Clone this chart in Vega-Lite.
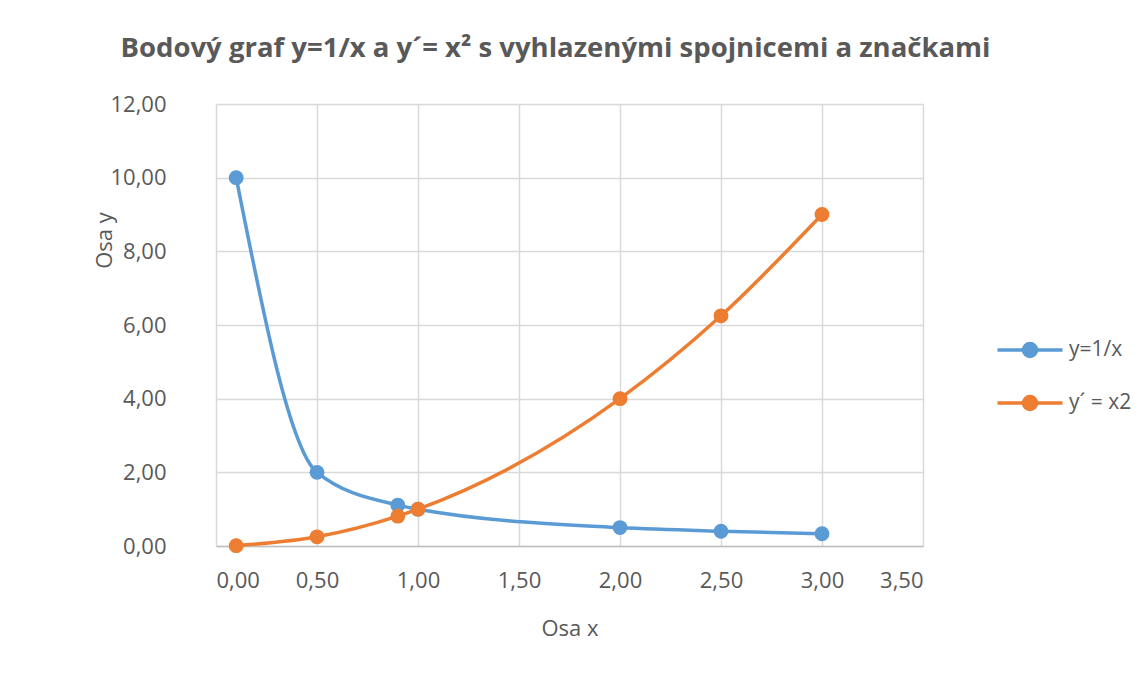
{
  "$schema": "https://vega.github.io/schema/vega-lite/v6.json",
  "autosize": "none",
  "width": 707,
  "height": 442,
  "padding": {"left": 216, "top": 104, "right": 223, "bottom": 137},
  "background": "white",
  "title": {
    "text": "Bodový graf y=1/x  a y´= x² s vyhlazenými spojnicemi a značkami",
    "fontSize": 27.5,
    "font": "Open Sans",
    "fontWeight": "bold",
    "color": "#595959",
    "anchor": "middle",
    "dx": -14,
    "offset": 31
  },
  "data": {
    "values": [
      {"x": 0.1, "y": 10, "series": "y=1/x"},
      {"x": 0.5, "y": 2, "series": "y=1/x"},
      {"x": 0.9, "y": 1.11, "series": "y=1/x"},
      {"x": 1.0, "y": 1, "series": "y=1/x"},
      {"x": 2.0, "y": 0.5, "series": "y=1/x"},
      {"x": 2.5, "y": 0.4, "series": "y=1/x"},
      {"x": 3.0, "y": 0.333, "series": "y=1/x"},
      {"x": 0.1, "y": 0.01, "series": "y´ = x2"},
      {"x": 0.5, "y": 0.25, "series": "y´ = x2"},
      {"x": 0.9, "y": 0.81, "series": "y´ = x2"},
      {"x": 1.0, "y": 1, "series": "y´ = x2"},
      {"x": 2.0, "y": 4, "series": "y´ = x2"},
      {"x": 2.5, "y": 6.25, "series": "y´ = x2"},
      {"x": 3.0, "y": 9, "series": "y´ = x2"}
    ]
  },
  "encoding": {
    "x": {
      "field": "x",
      "type": "quantitative",
      "scale": {"domain": [0, 3.5], "nice": false, "zero": false},
      "axis": {
        "title": "Osa x",
        "values": [0, 0.5, 1, 1.5, 2, 2.5, 3, 3.5],
        "labelExpr": "replace(format(datum.value, '.2f'), '.', ',')",
        "ticks": false,
        "labelPadding": 24,
        "labelFontSize": 22,
        "labelFont": "Open Sans",
        "labelColor": "#595959",
        "titleFontSize": 22,
        "titleFont": "Open Sans",
        "titleFontWeight": "normal",
        "titleColor": "#595959",
        "titleY": 82,
        "titleBaseline": "middle",
        "domainColor": "#BFBFBF",
        "domainWidth": 1.5,
        "gridColor": "#D9D9D9",
        "gridWidth": 1.5
      }
    },
    "y": {
      "field": "y",
      "type": "quantitative",
      "scale": {"domain": [0, 12], "nice": false},
      "axis": {
        "title": "Osa y",
        "values": [0, 2, 4, 6, 8, 10, 12],
        "labelExpr": "replace(format(datum.value, '.2f'), '.', ',')",
        "ticks": false,
        "domain": false,
        "labelPadding": 50,
        "labelFontSize": 22,
        "labelFont": "Open Sans",
        "labelColor": "#595959",
        "titleFontSize": 22,
        "titleFont": "Open Sans",
        "titleFontWeight": "normal",
        "titleColor": "#595959",
        "titleAngle": -90,
        "titleX": -112,
        "titleY": 136,
        "titleAlign": "center",
        "titleBaseline": "middle",
        "gridColor": "#D9D9D9",
        "gridWidth": 1.5
      }
    },
    "color": {
      "field": "series",
      "type": "nominal",
      "sort": ["y=1/x", "y´ = x2"],
      "scale": {"domain": ["y=1/x", "y´ = x2"], "range": ["#5B9BD5", "#ED7D31"]}
    }
  },
  "layer": [
    {
      "mark": {"type": "line", "interpolate": "monotone", "strokeWidth": 3.5},
      "encoding": {}
    },
    {
      "mark": {"type": "point", "filled": true, "size": 220, "opacity": 1},
      "encoding": {
        "color": {
          "field": "series",
          "type": "nominal",
          "sort": ["y=1/x", "y´ = x2"],
          "scale": {"domain": ["y=1/x", "y´ = x2"], "range": ["#5B9BD5", "#ED7D31"]},
          "legend": {
            "title": null,
            "orient": "none",
            "legendX": 796,
            "legendY": 228,
            "symbolType": "M-2,0H2M-0.4,0A0.4,0.4 0 1,0 0.4,0A0.4,0.4 0 1,0 -0.4,0Z",
            "symbolSize": 1056,
            "symbolStrokeWidth": 3.5,
            "symbolOpacity": 1,
            "labelOffset": 21,
            "labelFontSize": 21,
            "labelFont": "Open Sans",
            "labelColor": "#595959",
            "rowPadding": 21,
            "encode": {
              "symbols": {
                "update": {
                  "stroke": {"scale": "color", "field": "value"},
                  "fill": {"scale": "color", "field": "value"},
                  "strokeWidth": {"value": 3.5}
                }
              }
            }
          }
        }
      }
    }
  ],
  "config": {
    "view": {"stroke": null}
  }
}
